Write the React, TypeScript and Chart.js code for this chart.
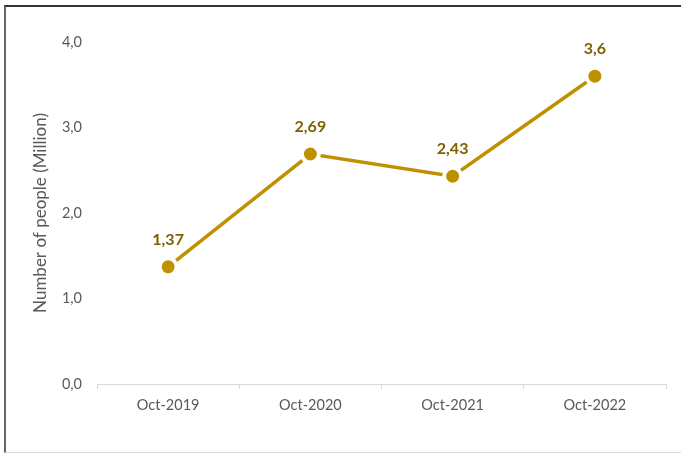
import React, { useEffect, useRef } from "react";
import { Chart, registerables } from "chart.js";

Chart.register(...registerables);

const categories = ["Oct-2019", "Oct-2020", "Oct-2021", "Oct-2022"];
const values = [1.37, 2.69, 2.43, 3.6];
const valueLabels = ["1,37", "2,69", "2,43", "3,6"];
const yTicks = [0, 1, 2, 3, 4];

const FONT = "Lato, 'Noto Sans', sans-serif";

const labelPlugin = {
  id: "valueLabels",
  afterDatasetsDraw(chart: any) {
    const ctx = chart.ctx;
    const meta = chart.getDatasetMeta(0);
    ctx.save();
    ctx.font = `bold 16px ${FONT}`;
    ctx.fillStyle = "#7F6000";
    ctx.textAlign = "center";
    ctx.textBaseline = "middle";
    meta.data.forEach((pt: any, i: number) => {
      ctx.fillText(valueLabels[i], pt.x, pt.y - 27);
    });
    ctx.restore();
  },
};

export default function App() {
  const ref = useRef<HTMLCanvasElement>(null);
  useEffect(() => {
    if (!ref.current) return;
    const chart = new Chart(ref.current, {
      type: "line",
      data: {
        labels: categories,
        datasets: [
          {
            data: values,
            borderColor: "#BF9000",
            borderWidth: 3.5,
            backgroundColor: "#BF9000",
            pointBackgroundColor: "#BF9000",
            pointBorderColor: "#FFFFFF",
            pointBorderWidth: 4,
            pointRadius: 8.5,
            pointHoverRadius: 8.5,
            tension: 0,
          },
        ],
      },
      options: {
        animation: false,
        responsive: false,
        maintainAspectRatio: false,
        devicePixelRatio: 1,
        layout: { padding: { left: 26, right: 15, top: 42, bottom: 0 } },
        plugins: {
          legend: { display: false },
          tooltip: { enabled: false },
        },
        scales: {
          x: {
            offset: true,
            grid: {
              display: true,
              drawOnChartArea: false,
              drawTicks: true,
              tickLength: 5,
              color: "#D9D9D9",
              offset: true,
            },
            border: { display: true, color: "#D9D9D9", width: 1 },
            ticks: {
              color: "#595959",
              font: { family: FONT, size: 14.5 },
              padding: 8,
            },
            afterFit(scale: any) {
              scale.height = 453 - 384;
            },
          },
          y: {
            min: 0,
            max: 4,
            afterBuildTicks(scale: any) {
              scale.ticks = yTicks.map((v) => ({ value: v }));
            },
            grid: { display: false, drawTicks: false },
            border: { display: false },
            ticks: {
              color: "#595959",
              font: { family: FONT, size: 14.5 },
              padding: 15,
              callback: (v: any) => Number(v).toFixed(1).replace(".", ","),
            },
            title: {
              display: true,
              text: "Number of people (Million)",
              color: "#595959",
              font: { family: FONT, size: 17 },
              padding: { top: 4, bottom: 0 },
            },
            afterFit(scale: any) {
              scale.width = 97 - 26;
            },
          },
        },
      },
      plugins: [labelPlugin],
    });
    return () => chart.destroy();
  }, []);

  return (
    <div style={{ position: "fixed", left: 0, top: 0, width: 681, height: 453, background: "#fff", overflow: "hidden" }}>
      <canvas ref={ref} width={681} height={453} style={{ position: "absolute", left: 0, top: 0, width: 681, height: 453 }} />
      <div
        style={{
          position: "absolute",
          left: 4,
          top: 5,
          width: 700,
          height: 445,
          borderTop: "2px solid #333",
          borderLeft: "2px solid #666",
          borderBottom: "1px solid #D9D9D9",
          pointerEvents: "none",
        }}
      />
    </div>
  );
}
